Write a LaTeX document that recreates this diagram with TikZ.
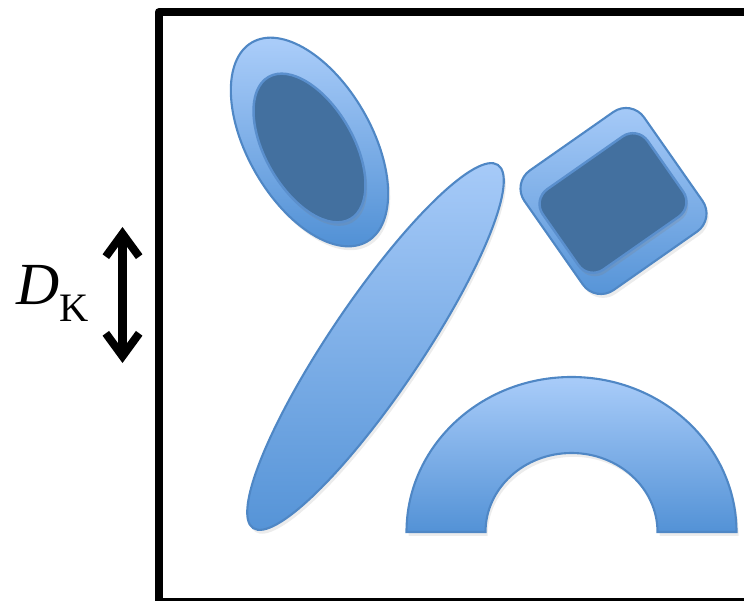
\documentclass[tikz,border=0pt]{standalone}
\usepackage{fontspec}
\setmainfont{Liberation Serif}
\usepackage{tikz}
\usetikzlibrary{arrows.meta, shadows}
\usetikzlibrary{positioning}

\definecolor{blobtop}{HTML}{A9CCF9}
\definecolor{blobbottom}{HTML}{5392D6}
\definecolor{blobedge}{HTML}{4F87C5}
\definecolor{holefill}{HTML}{43709F}
\definecolor{holeedge}{HTML}{5A8FCD}

\tikzstyle{blob} = [
    draw=blobedge,
    line width=1.2pt,
    top color=blobtop,
    bottom color=blobbottom,
    drop shadow={opacity=0.15, shadow xshift=1.2pt, shadow yshift=-2.2pt}
]
\tikzstyle{hole} = [
    draw=holeedge,
    line width=1.4pt,
    fill=holefill,
    drop shadow={opacity=0.22, shadow xshift=1pt, shadow yshift=-2pt}
]
\tikzstyle{dimarrow} = [
    line width=4.6pt,
    {Straight Barb[length=13pt, width=19pt]}-{Straight Barb[length=13pt, width=19pt]},
    line cap=round,
    line join=round
]

\begin{document}
\begin{tikzpicture}[x=0.02cm, y=-0.02cm]

\useasboundingbox (0,0) rectangle (744,601);
\clip (0,0) rectangle (744,601);

\draw [line width=4.5pt, line join=round] (158.8,12) rectangle (800,602);

% small ellipse, top left
\path [blob, rotate around={-60:(309.5,142)}] (309.5,142) ellipse [x radius=115, y radius=62];
\path [hole, rotate around={-60:(309.5,148)}] (309.5,148) ellipse [x radius=82, y radius=44];

% long ellipse
\path [blob, rotate around={56:(375.5,346.5)}] (375.5,346.5) ellipse [x radius=219, y radius=46];

% rounded square
\path [blob, rotate around={35:(613.5,201)}, rounded corners=0.44cm] (540.5,128) rectangle (686.5,274);
\path [hole, rotate around={35:(613,203)}, rounded corners=0.36cm] (549,154) rectangle (677,252);

% half ring
\path [blob] (406.5,532) arc [start angle=180, end angle=360, x radius=165, y radius=155]
    -- (657.5,532) arc [start angle=0, end angle=-180, x radius=86, y radius=79] -- cycle;

\coordinate (dtop) at (122.5,227);
\coordinate (dbot) at (122.5,363);
\draw [dimarrow] (dtop) -- (dbot);

\node [anchor=base west,
    inner sep=0pt
]  (dk) at (16,305) {\fontsize{34pt}{34pt}\selectfont\textit{D}\raisebox{-0.34cm}{\fontsize{23pt}{23pt}\selectfont K}};

\end{tikzpicture}
\end{document}
